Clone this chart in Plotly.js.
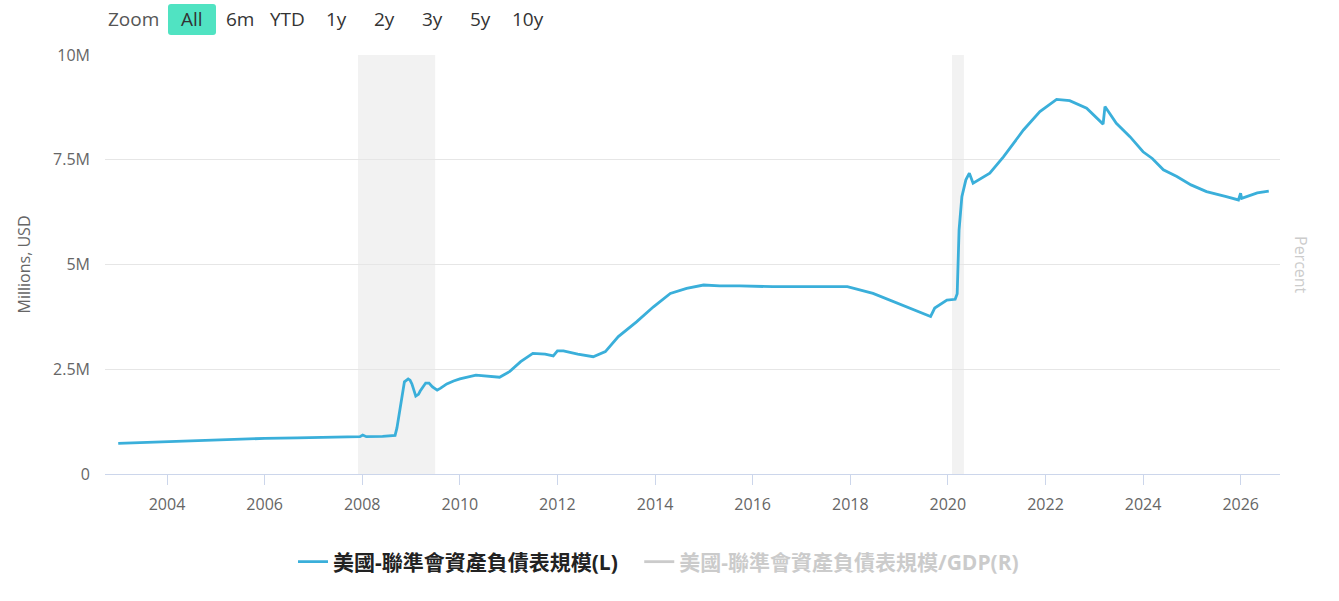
<!DOCTYPE html>
<html>
<head>
<meta charset="utf-8">
<script src="https://cdn.plot.ly/plotly-3.0.1.min.js"></script>
<style>
  html, body { margin: 0; padding: 0; background: #ffffff; }
  #chart { width: 1339px; height: 601px; }
</style>
</head>
<body>
<div id="chart"></div>
<script>
// ---- Data ----
const seriesName1 = '美國-聯準會資產負債表規模(L)';
const seriesName2 = '美國-聯準會資產負債表規模/GDP(R)';

const fedDates = [
  '2003-01-01','2003-07-01','2004-01-01','2004-09-01','2005-06-01','2006-01-01','2006-09-01','2007-06-01',
  '2007-12-15','2008-01-05','2008-02-01','2008-06-01','2008-09-03','2008-09-17','2008-10-08','2008-10-29',
  '2008-11-12','2008-12-10','2008-12-24','2009-01-07','2009-02-05','2009-02-25','2009-03-10','2009-04-20',
  '2009-05-15','2009-06-10','2009-07-15','2009-08-10','2009-09-25','2009-11-15','2010-01-01','2010-05-01',
  '2010-08-01','2010-10-25','2011-01-10','2011-04-01','2011-07-01','2011-10-01','2011-12-01','2012-01-01',
  '2012-02-15','2012-06-01','2012-09-25','2012-12-25','2013-04-01','2013-08-15','2013-12-20','2014-04-25',
  '2014-08-25','2014-12-30','2015-04-30','2015-09-25','2016-06-01','2017-02-10','2017-12-10','2018-06-20',
  '2019-03-01','2019-08-25','2019-09-25','2019-12-25','2020-02-25','2020-03-11','2020-03-25','2020-04-15',
  '2020-05-15','2020-06-10','2020-07-08','2020-11-10','2021-02-20','2021-07-20','2021-11-20','2022-03-25',
  '2022-07-01','2022-11-05','2023-03-08','2023-03-22','2023-06-15','2023-09-25','2024-01-01','2024-03-10',
  '2024-06-01','2024-09-10','2024-12-25','2025-04-20','2025-09-15','2025-12-15','2025-12-31','2026-01-08',
  '2026-05-05','2026-07-30'
];
const fedValues = [
  730000, 750000, 770000, 800000, 830000, 850000, 860000, 880000,
  890000, 930000, 890000, 900000, 920000, 1100000, 1500000, 1950000,
  2200000, 2270000, 2240000, 2150000, 1860000, 1900000, 1980000, 2170000,
  2170000, 2080000, 2000000, 2050000, 2150000, 2220000, 2270000, 2360000,
  2330000, 2310000, 2450000, 2680000, 2880000, 2860000, 2820000, 2940000,
  2940000, 2860000, 2800000, 2920000, 3280000, 3630000, 3990000, 4310000,
  4430000, 4510000, 4490000, 4490000, 4470000, 4470000, 4470000, 4310000,
  3990000, 3760000, 3960000, 4150000, 4170000, 4300000, 5820000, 6620000,
  7020000, 7180000, 6940000, 7180000, 7570000, 8210000, 8650000, 8940000,
  8910000, 8730000, 8350000, 8770000, 8370000, 8050000, 7690000, 7530000,
  7260000, 7100000, 6900000, 6740000, 6620000, 6540000, 6700000, 6580000,
  6710000, 6750000
];

// second series is hidden in the reference (legend only): no values shown
const ratioDates  = [fedDates[0]];
const ratioValues = [null];

const recessionStarts = ['2007-12-01', '2020-02-01'];
const recessionEnds   = ['2009-06-30', '2020-04-30'];

const yTickVals   = [0, 2500000, 5000000, 7500000, 10000000];
const yTickLabels = ['0', '2.5M', '5M', '7.5M', '10M'];

const zoomLabel    = 'Zoom';
const buttonLabels = ['All', '6m', 'YTD', '1y', '2y', '3y', '5y', '10y'];

// ---- Layout helpers (pixel -> paper) ----
const PL = 105, PR = 1280, PT = 55, PB = 474;
const px = p => (p - PL) / (PR - PL);
const py = p => (PB - p) / (PB - PT);

const FONT = "'Open Sans', 'Noto Sans CJK TC', sans-serif";

const buttonCenters = [192, 240, 287, 336, 384, 432, 480, 528];

const annotations = [];
annotations.push({
  xref: 'paper', yref: 'paper', x: px(133), y: py(19), xanchor: 'center', yanchor: 'middle',
  text: zoomLabel, showarrow: false, font: {family: FONT, size: 19, color: '#555555'}
});
buttonLabels.forEach((b, i) => {
  annotations.push({
    xref: 'paper', yref: 'paper', x: px(buttonCenters[i]), y: py(19), xanchor: 'center', yanchor: 'middle',
    text: b, showarrow: false, font: {family: FONT, size: 19, color: '#333333'}
  });
});
annotations.push({
  xref: 'paper', yref: 'paper', x: px(1301), y: py(265), xanchor: 'center', yanchor: 'middle',
  text: 'Percent', textangle: 90, showarrow: false, font: {family: FONT, size: 16, color: '#cccccc'}
});

// rounded rect for the active "All" button
function roundRect(x0, y0, x1, y1, r) {
  const X = px, Y = py;
  return 'M' + X(x0 + r) + ',' + Y(y0) +
    ' L' + X(x1 - r) + ',' + Y(y0) +
    ' Q' + X(x1) + ',' + Y(y0) + ' ' + X(x1) + ',' + Y(y0 + r) +
    ' L' + X(x1) + ',' + Y(y1 - r) +
    ' Q' + X(x1) + ',' + Y(y1) + ' ' + X(x1 - r) + ',' + Y(y1) +
    ' L' + X(x0 + r) + ',' + Y(y1) +
    ' Q' + X(x0) + ',' + Y(y1) + ' ' + X(x0) + ',' + Y(y1 - r) +
    ' L' + X(x0) + ',' + Y(y0 + r) +
    ' Q' + X(x0) + ',' + Y(y0) + ' ' + X(x0 + r) + ',' + Y(y0) + ' Z';
}

const shapes = [];
recessionStarts.forEach((s, i) => {
  shapes.push({
    type: 'rect', xref: 'x', yref: 'paper', x0: s, x1: recessionEnds[i], y0: 0, y1: 1,
    fillcolor: '#f2f2f2', line: {width: 0}, layer: 'below'
  });
});
shapes.push({
  type: 'path', xref: 'paper', yref: 'paper', path: roundRect(168, 4, 216, 35, 3),
  fillcolor: '#50e3c2', line: {width: 0}, layer: 'above'
});

const NBSP = '\u00a0';
const traces = [
  {
    x: fedDates, y: fedValues, type: 'scatter', mode: 'lines',
    name: '<b>' + seriesName1 + '</b>' + NBSP.repeat(3),
    line: {color: '#3aafda', width: 2.8},
    hovertemplate: '%{x|%Y-%m-%d}<br>%{y:,.0f}<extra></extra>'
  },
  {
    x: ratioDates, y: ratioValues, type: 'scatter', mode: 'lines', yaxis: 'y2',
    name: '<b><span style="color:#999999">' + seriesName2 + '</span></b>',
    line: {color: '#999999', width: 2.8},
    visible: 'legendonly', showlegend: true
  }
];

const layout = {
  width: 1339, height: 601,
  margin: {l: PL, r: 1339 - PR, t: PT, b: 601 - PB},
  paper_bgcolor: '#ffffff', plot_bgcolor: '#ffffff',
  font: {family: FONT, color: '#666666', size: 16},
  showlegend: true,
  legend: {
    orientation: 'h', xref: 'paper', yref: 'paper',
    x: px(293), xanchor: 'left', y: py(562), yanchor: 'middle',
    font: {family: FONT, size: 21, color: '#222222'},
    bgcolor: 'rgba(0,0,0,0)', itemclick: 'toggle'
  },
  xaxis: {
    type: 'date',
    range: ['2002-09-24', '2026-10-22'],
    tick0: '2004-01-01', dtick: 'M24', tickformat: '%Y',
    ticks: 'outside', ticklen: 10, tickcolor: '#ccd6eb', tickwidth: 1,
    showline: true, linecolor: '#ccd6eb', linewidth: 1,
    showgrid: false, zeroline: false,
    tickfont: {family: FONT, size: 16, color: '#666666'},
    ticklabelstandoff: 6
  },
  yaxis: {
    range: [0, 10000000],
    tickmode: 'array', tickvals: yTickVals, ticktext: yTickLabels,
    showgrid: true, gridcolor: '#e6e6e6', gridwidth: 1,
    zeroline: false, showline: false, ticks: '',
    tickfont: {family: FONT, size: 16, color: '#666666'},
    ticklabelstandoff: 14,
    title: {text: 'Millions, USD', font: {family: FONT, size: 16, color: '#666666'}, standoff: 18}
  },
  yaxis2: {
    overlaying: 'y', side: 'right', showgrid: false, zeroline: false,
    showticklabels: false, ticks: '', range: [0, 40]
  },
  shapes: shapes,
  annotations: annotations,
  hovermode: 'x'
};

Plotly.newPlot('chart', traces, layout, {displayModeBar: false, responsive: false});
</script>
</body>
</html>
